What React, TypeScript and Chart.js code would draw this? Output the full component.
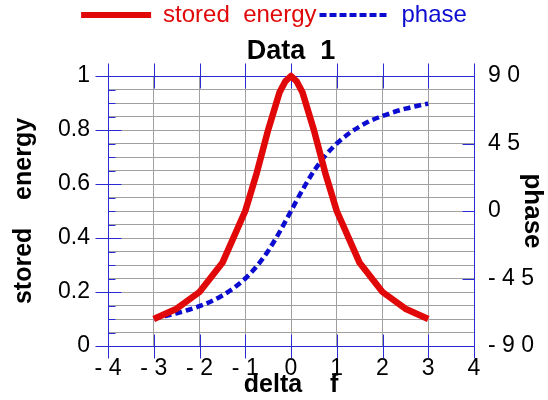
import React, { useEffect, useRef } from 'react';
import { Chart, registerables } from 'chart.js';

Chart.register(...registerables);

// ---- data ----
const energyX = [-3, -2.5, -2, -1.5, -1, -0.75, -0.5, -0.25, -0.125, 0, 0.125, 0.25, 0.5, 0.75, 1, 1.5, 2, 2.5, 3];
const energyY = [0.1, 0.138, 0.2, 0.308, 0.5, 0.64, 0.8, 0.94, 0.98, 1, 0.98, 0.94, 0.8, 0.64, 0.5, 0.308, 0.2, 0.138, 0.1];

const phaseX = [-3, -2.75, -2.5, -2.25, -2, -1.75, -1.5, -1.25, -1, -0.75, -0.5, -0.25, 0, 0.25, 0.5, 0.75, 1, 1.25, 1.5, 1.75, 2, 2.25, 2.5, 2.75, 3];
const phaseY = [-71.6, -70.0, -68.2, -66.0, -63.4, -60.3, -56.3, -51.3, -45, -36.9, -26.6, -14.0, 0, 14.0, 26.6, 36.9, 45, 51.3, 56.3, 60.3, 63.4, 66.0, 68.2, 70.0, 71.6];

const xTickLabels = ['- 4', '- 3', '- 2', '- 1', '0', '1', '2', '3', '4'];
const yTickLabels = ['0', '0.2', '0.4', '0.6', '0.8', '1'];
const y2TickLabels = ['- 9 0', '- 4 5', '0', '4 5', '9 0'];

const seriesNames = ['stored  energy', 'phase'];

const RED = '#e00808';
const BLUE = '#0c0cd0';
const AXIS = '#2a2ad6';
const GRID = '#a0a0a0';
const FONT = "'Liberation Sans', Arial, Helvetica, sans-serif";

const isMajor = (v: number) => Math.abs(v * 5 - Math.round(v * 5)) < 1e-6;

const framePlugin = {
  id: 'frame',
  beforeDatasetsDraw(chart: any) {
    const { ctx, chartArea, scales } = chart;
    const { left, right, top, bottom } = chartArea;
    const a = (v: number) => Math.round(v) + 0.5;
    ctx.save();
    ctx.strokeStyle = AXIS;
    ctx.lineWidth = 1;
    ctx.beginPath();
    ctx.moveTo(a(left), a(top));
    ctx.lineTo(a(right), a(top));
    ctx.lineTo(a(right), a(bottom));
    ctx.lineTo(a(left), a(bottom));
    ctx.closePath();
    scales.y.ticks.forEach((t: any) => {
      const py = a(scales.y.getPixelForValue(t.value));
      if (isMajor(t.value)) {
        ctx.moveTo(a(left) - 13, py);
        ctx.lineTo(a(left) + 13, py);
      } else {
        ctx.moveTo(a(left), py);
        ctx.lineTo(a(left) + 7, py);
      }
    });
    scales.x.ticks.forEach((t: any) => {
      const px = a(scales.x.getPixelForValue(t.value));
      ctx.moveTo(px, a(bottom) - 12);
      ctx.lineTo(px, a(bottom) + 12);
      ctx.moveTo(px, a(top) - 13);
      ctx.lineTo(px, a(top) + 12);
    });
    scales.y2.ticks.forEach((t: any) => {
      const py = a(scales.y2.getPixelForValue(t.value));
      ctx.moveTo(a(right) - 12, py);
      ctx.lineTo(a(right), py);
    });
    ctx.stroke();
    ctx.restore();
  },
};

export default function App() {
  const canvasRef = useRef<HTMLCanvasElement | null>(null);

  useEffect(() => {
    document.body.style.margin = '0';
    const canvas = canvasRef.current;
    if (!canvas) return;
    Chart.defaults.font.family = FONT;
    Chart.defaults.color = '#000';

    const chart = new Chart(canvas, {
      type: 'line',
      data: {
        datasets: [
          {
            label: seriesNames[0],
            data: energyX.map((x, i) => ({ x, y: energyY[i] })),
            borderColor: RED,
            backgroundColor: RED,
            borderWidth: 6.5,
            pointRadius: 0,
            borderJoinStyle: 'round',
            borderCapStyle: 'butt',
            yAxisID: 'y',
            tension: 0,
            clip: 10,
          },
          {
            label: seriesNames[1],
            data: phaseX.map((x, i) => ({ x, y: phaseY[i] })),
            borderColor: BLUE,
            backgroundColor: BLUE,
            borderWidth: 4.5,
            borderDash: [7, 4],
            pointRadius: 0,
            yAxisID: 'y2',
            cubicInterpolationMode: 'monotone',
          },
        ],
      },
      options: {
        responsive: false,
        maintainAspectRatio: false,
        animation: false,
        layout: { padding: 0 },
        plugins: {
          legend: {
            display: true,
            position: 'top',
            weight: 1000,
            labels: {
              usePointStyle: true,
              pointStyleWidth: 70,
              padding: 3,
              font: { size: 24, family: FONT },
              generateLabels: () => [
                {
                  text: seriesNames[0],
                  fillStyle: RED,
                  strokeStyle: RED,
                  lineWidth: 6,
                  lineDash: [],
                  pointStyle: 'line',
                  fontColor: RED,
                  datasetIndex: 0,
                  hidden: false,
                },
                {
                  text: seriesNames[1],
                  fillStyle: BLUE,
                  strokeStyle: BLUE,
                  lineWidth: 4,
                  lineDash: [7, 3],
                  pointStyle: 'line',
                  fontColor: BLUE,
                  datasetIndex: 1,
                  hidden: false,
                },
              ],
            },
          },
          title: {
            display: true,
            text: 'Data  1',
            fullSize: false,
            weight: 500,
            color: '#000',
            font: { size: 27, weight: 'bold', family: FONT, lineHeight: 1 },
            padding: { top: 1, bottom: 11 },
          },
          tooltip: { enabled: false },
        },
        scales: {
          x: {
            type: 'linear',
            position: 'bottom',
            min: -4,
            max: 4,
            afterFit: (s: any) => { s.height = 54; },
            ticks: {
              stepSize: 1,
              autoSkip: false,
              maxRotation: 0,
              padding: 9,
              color: '#000',
              font: { size: 23, family: FONT },
              callback: (v: any) => xTickLabels[Math.round(Number(v)) + 4] ?? '',
            },
            grid: {
              drawTicks: false,
              color: (c: any) => (c.tick && Math.abs(c.tick.value) === 4 ? 'rgba(0,0,0,0)' : GRID),
            },
            border: { display: false },
            title: {
              display: true,
              text: 'delta    f',
              color: '#000',
              font: { size: 25, weight: 'bold', family: FONT, lineHeight: 1.2 },
              padding: { top: 0, bottom: 0 },
            },
          },
          y: {
            type: 'linear',
            position: 'left',
            min: 0,
            max: 1,
            afterFit: (s: any) => { s.width = 108; },
            ticks: {
              stepSize: 0.05,
              autoSkip: false,
              padding: 18,
              color: '#000',
              font: { size: 23, family: FONT },
              callback: (v: any) => (isMajor(Number(v)) ? yTickLabels[Math.round(Number(v) * 5)] : ''),
            },
            grid: {
              drawTicks: false,
              color: (c: any) => (c.tick && (c.tick.value <= 0.0001 || c.tick.value >= 0.9999) ? 'rgba(0,0,0,0)' : GRID),
            },
            border: { display: false },
            title: {
              display: true,
              text: 'stored    energy',
              color: '#000',
              font: { size: 25, weight: 'bold', family: FONT, lineHeight: 1.2 },
              padding: { top: 9, bottom: 0 },
            },
          },
          y2: {
            type: 'linear',
            position: 'right',
            min: -90,
            max: 90,
            afterFit: (s: any) => { s.width = 74; },
            ticks: {
              stepSize: 45,
              autoSkip: false,
              padding: 14,
              color: '#000',
              font: { size: 23, family: FONT },
              callback: (v: any) => y2TickLabels[Math.round(Number(v) / 45) + 2] ?? '',
            },
            grid: { display: false, drawTicks: false },
            border: { display: false },
            title: {
              display: true,
              text: 'phase',
              color: '#000',
              font: { size: 26, weight: 'bold', family: FONT, lineHeight: 1.2 },
              padding: { top: 0, bottom: 0 },
            },
          },
        },
      },
      plugins: [framePlugin],
    } as any);

    return () => {
      chart.destroy();
    };
  }, []);

  return (
    <div style={{ width: 548, height: 400 }}>
      <canvas ref={canvasRef} width={548} height={400} style={{ display: 'block' }} />
    </div>
  );
}
